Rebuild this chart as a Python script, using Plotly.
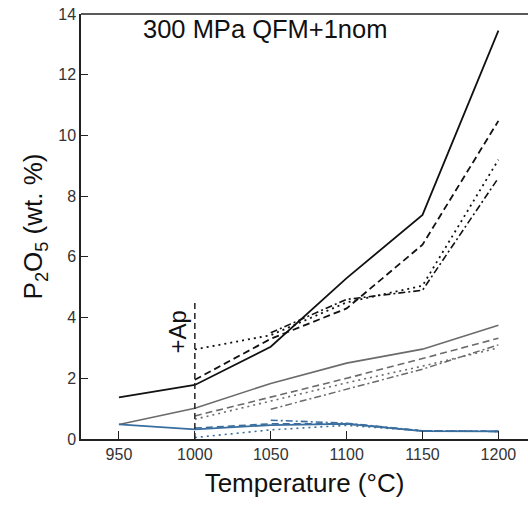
import plotly.graph_objects as go

T = [950, 1000, 1050, 1100, 1150, 1200]
T_ap = [1000, 1050, 1100, 1150, 1200]
T_late = [1050, 1100, 1150, 1200]

# black group
blk_solid = [1.37, 1.78, 3.04, 5.3, 7.38, 13.45]
blk_dash = [1.95, 3.3, 4.3, 6.4, 10.48]
blk_dot = [2.95, 3.42, 4.5, 5.05, 9.2]
blk_dashdot = [3.5, 4.6, 4.9, 8.6]

# grey group
gry_solid = [0.48, 1.01, 1.83, 2.5, 2.96, 3.75]
gry_dash = [0.76, 1.38, 2.0, 2.65, 3.32]
gry_dot = [0.65, 1.25, 1.85, 2.4, 3.0]
gry_dashdot = [0.98, 1.65, 2.3, 3.1]

# blue group
blu_solid = [0.48, 0.32, 0.46, 0.5, 0.26, 0.25]
blu_dash = [0.36, 0.5, 0.5, 0.27, 0.25]
blu_dot = [0.05, 0.3, 0.45, 0.27, 0.25]
blu_dashdot = [0.62, 0.52, 0.27, 0.25]

ap_T = [1000, 1000]
ap_y = [0, 4.55]

y_ticks = [0, 2, 4, 6, 8, 10, 12, 14]
x_ticks = [950, 1000, 1050, 1100, 1150, 1200]

BLACK = "#111111"
GREY = "#6b6b6b"
BLUE = "#3a6e9e"
FONT = "Arial, Liberation Sans"

fig = go.Figure()

def add(x, y, color, dash, width):
    fig.add_trace(go.Scatter(x=x, y=y, mode="lines",
                             line=dict(color=color, dash=dash, width=width),
                             showlegend=False, hoverinfo="skip"))

add(T, blk_solid, BLACK, "solid", 1.8)
add(T_ap, blk_dash, BLACK, "7px,4px", 1.8)
add(T_ap, blk_dot, BLACK, "2px,4px", 1.8)
add(T_late, blk_dashdot, BLACK, "7px,3px,2px,3px", 1.6)

add(T, gry_solid, GREY, "solid", 1.6)
add(T_ap, gry_dash, GREY, "7px,4px", 1.6)
add(T_ap, gry_dot, GREY, "2px,4px", 1.6)
add(T_late, gry_dashdot, GREY, "7px,3px,2px,3px", 1.5)

add(T, blu_solid, BLUE, "solid", 1.8)
add(T_ap, blu_dash, BLUE, "7px,4px", 1.6)
add(T_ap, blu_dot, BLUE, "2px,4px", 1.6)
add(T_late, blu_dashdot, BLUE, "7px,3px,2px,3px", 1.6)

add(ap_T, ap_y, "#222222", "6px,4px", 1.5)

fig.add_annotation(x=1000, y=3.52, xref="x", yref="y", text="+Ap", textangle=-90,
                   showarrow=False, xanchor="right", xshift=-2,
                   font=dict(family=FONT, size=24, color="#111111"))
fig.add_annotation(x=964.5, y=13.5, xref="x", yref="y", text="300 MPa QFM+1nom",
                   showarrow=False, xanchor="left", yanchor="middle",
                   font=dict(family=FONT, size=25.5, color="#111111"))

fig.update_layout(
    width=528, height=505,
    margin=dict(l=81, r=0, t=14, b=66),
    plot_bgcolor="white", paper_bgcolor="white",
    font=dict(family=FONT, color="#222222"),
    xaxis=dict(range=[925, 1219.5], tickvals=x_ticks, ticks="inside", ticklen=8,
               tickwidth=1.3, tickcolor="#222222", showgrid=False, zeroline=False,
               showline=True, linecolor="#222222", linewidth=1.5, mirror=False,
               tickfont=dict(size=16, color="#333333"),
               title=dict(text="Temperature (°C)", font=dict(size=26, color="#111111"),
                          standoff=12)),
    yaxis=dict(range=[0, 14], tickvals=y_ticks, ticks="inside", ticklen=7,
               tickwidth=1.3, tickcolor="#222222", showgrid=False, zeroline=False,
               showline=True, linecolor="#222222", linewidth=1.5,
               tickfont=dict(size=16, color="#333333"),
               title=dict(text="P<sub>2</sub>O<sub>5</sub> (wt. %)",
                          font=dict(size=26, color="#111111"), standoff=8)),
)
fig.add_shape(type="line", xref="paper", yref="paper", x0=0, x1=1, y0=1, y1=1,
              line=dict(color="#222222", width=1.5))

fig.write_html("out.html")
